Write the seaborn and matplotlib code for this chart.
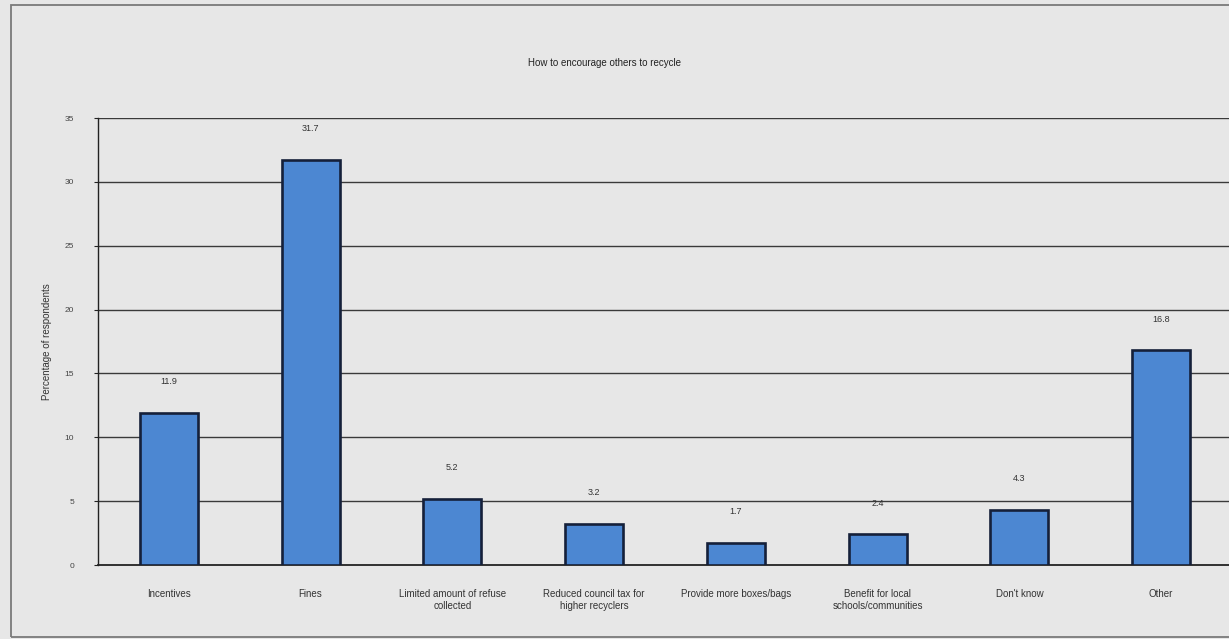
import matplotlib
matplotlib.use("Agg")
import matplotlib.pyplot as plt
import seaborn as sns
from matplotlib.patches import Rectangle

categories = [
    "Incentives",
    "Fines",
    "Limited amount of refuse\ncollected",
    "Reduced council tax for\nhigher recyclers",
    "Provide more boxes/bags",
    "Benefit for local\nschools/communities",
    "Don't know",
    "Other",
]
values = [11.9, 31.7, 5.2, 3.2, 1.7, 2.4, 4.3, 16.8]
y_ticks = [0, 5, 10, 15, 20, 25, 30, 35]

sns.set_theme(style="white")
plt.rcParams["font.family"] = ["Liberation Sans", "DejaVu Sans"]

bg = "#e7e7e7"
fig = plt.figure(figsize=(12.29, 6.39), dpi=100, facecolor=bg)
ax = fig.add_axes([0.0797, 0.1158, 0.9227, 0.6995])
ax.set_facecolor(bg)

sns.barplot(x=categories, y=values, ax=ax, color="#4c87d2", saturation=1,
            width=0.41, edgecolor="#15203a", linewidth=1.9, zorder=3)

ax.set_ylim(0, 35)
ax.set_xlim(-0.5, len(categories) - 0.5)
ax.set_yticks(y_ticks)
ax.set_yticklabels([str(t) for t in y_ticks], fontsize=6, color="#444444")
ax.tick_params(axis="y", length=3, width=0.8, color="#222222", pad=14, direction="out", left=True)
ax.tick_params(axis="x", length=0, pad=17, labelsize=7, labelcolor="#333333")
for t in ax.get_xticklabels():
    t.set_linespacing(1.35)

for y in y_ticks[1:]:
    ax.axhline(y, color="#3a3a3a", linewidth=1.0, zorder=1)

for side in ["top", "right"]:
    ax.spines[side].set_visible(False)
ax.spines["left"].set_color("#222222")
ax.spines["left"].set_linewidth(1.0)
ax.spines["bottom"].set_color("#222222")
ax.spines["bottom"].set_linewidth(1.3)

for i, v in enumerate(values):
    ax.text(i, v + 2.1, f"{v}", ha="center", va="bottom", fontsize=6.5, color="#333333")

ax.set_xlabel("")
ax.set_ylabel("Percentage of respondents", fontsize=7, color="#333333", labelpad=9)
fig.text(0.492, 0.901, "How to encourage others to recycle", ha="center", va="center",
         fontsize=7, color="#222222")

# outer chart frame
fig.patches.append(Rectangle((11 / 1229, 2 / 639), 1.05, 632 / 639, transform=fig.transFigure,
                             fill=False, edgecolor="#7a7a7a", linewidth=1.3))

fig.savefig("out.png", dpi=100, facecolor=bg)
